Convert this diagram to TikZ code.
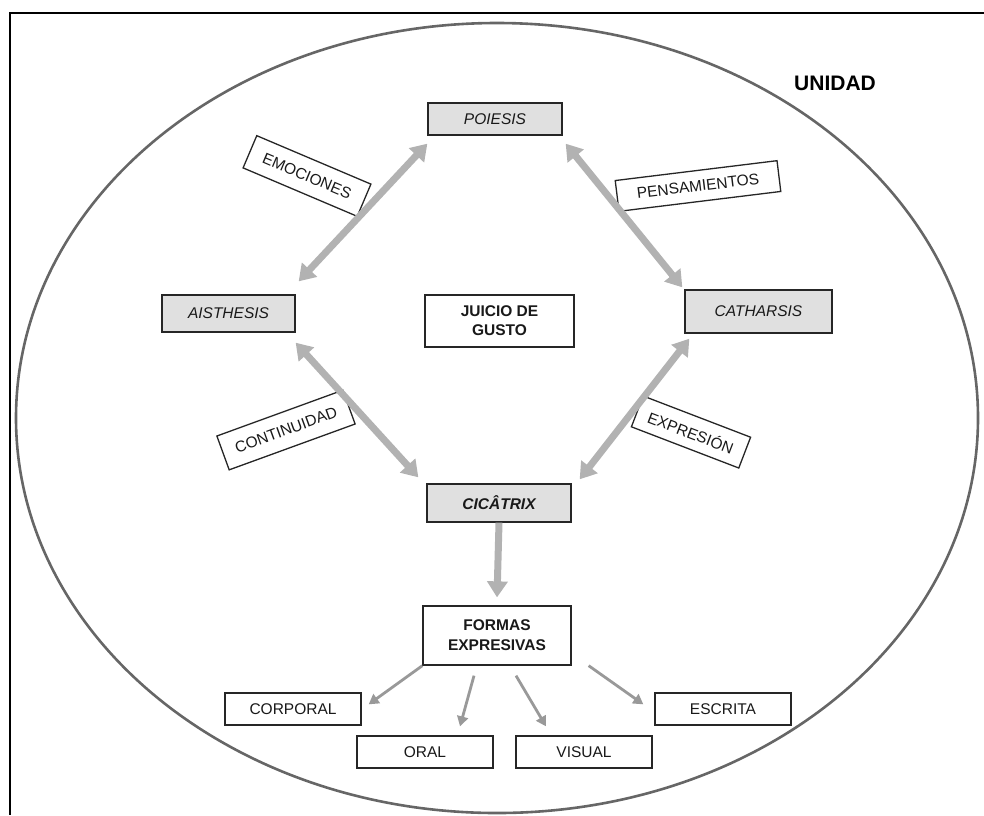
\documentclass[tikz,border=0pt]{standalone}
\usepackage{fontspec}
\setmainfont{Liberation Sans}
\usetikzlibrary{arrows.meta}

\newcommand\tam{\fontsize{15.5}{19}\selectfont}

\tikzset{
  cajablanca/.style={draw=black!85, line width=1.3pt, fill=white, inner sep=0pt, text=black!90, font=\tam},
  cajagris/.style={cajablanca, fill=black!12, font=\tam\itshape},
  flechadoble/.style={draw=black!30, line width=7pt, {Triangle[width=20pt,length=16pt]}-{Triangle[width=20pt,length=16pt]}},
  flechasimple/.style={draw=black!30, line width=7pt, -{Triangle[width=20pt,length=16pt]}},
  flechafina/.style={draw=black!40, line width=2.8pt, -{Triangle[width=11pt,length=10pt]}},
}

\begin{document}
\begin{tikzpicture}[x=1pt,y=-1pt]
\useasboundingbox (0,0) rectangle (984,815);

% marco y elipse
\draw[line width=2pt] (984,13) -- (10,13) -- (10,815);
\draw[black!60, line width=2.6pt] (497,418) ellipse [x radius=481pt, y radius=395pt];
\node[font=\fontsize{21}{25}\selectfont\bfseries] (unidad) at (835,83) {UNIDAD};

% conceptos
\node[cajagris, minimum width=134pt, minimum height=32pt] (poiesis) at (495,119) {POIESIS};
\node[cajagris, minimum width=133pt, minimum height=37pt] (aisthesis) at (228.5,313.5) {AISTHESIS};
\node[cajagris, minimum width=147pt, minimum height=43pt] (catharsis) at (758.5,311.5) {CATHARSIS};
\node[cajagris, minimum width=144pt, minimum height=38pt, font=\tam\bfseries\itshape] (cicatrix) at (499,503) {CICÂTRIX};
\node[cajablanca, minimum width=149pt, minimum height=52pt, align=center, font=\tam\bfseries] (juicio) at (499.5,321) {JUICIO DE\\GUSTO};
\node[cajablanca, minimum width=148pt, minimum height=59pt, align=center, font=\fontsize{15.5}{20}\selectfont\bfseries] (formas) at (497,635.5) {FORMAS\\EXPRESIVAS};

% etiquetas inclinadas
\node[cajablanca, minimum width=124pt, minimum height=35pt, rotate=-23] (emociones) at (307,176) {EMOCIONES};
\node[cajablanca, minimum width=163pt, minimum height=31pt, rotate=7] (pensamientos) at (698,186) {PENSAMIENTOS};
\node[cajablanca, minimum width=134pt, minimum height=36pt, rotate=20] (continuidad) at (286,430) {CONTINUIDAD};
\node[cajablanca, minimum width=115pt, minimum height=33pt, rotate=-21] (expresion) at (691,432) {EXPRESIÓN};

% formas
\node[cajablanca, minimum width=136pt, minimum height=32pt] (corporal) at (293,709) {CORPORAL};
\node[cajablanca, minimum width=136pt, minimum height=32pt] (oral) at (425,752) {ORAL};
\node[cajablanca, minimum width=136pt, minimum height=32pt] (visual) at (584,752) {VISUAL};
\node[cajablanca, minimum width=136pt, minimum height=32pt] (escrita) at (723,709) {ESCRITA};

% flechas
\draw[flechadoble] ([xshift=3pt,yshift=13pt]aisthesis.north east) -- ([yshift=-8pt]poiesis.south west);
\draw[flechadoble] ([xshift=3pt,yshift=-8pt]poiesis.south east) -- ([xshift=-2pt,yshift=2pt]catharsis.north west);
\draw[flechadoble] ([yshift=-10pt]aisthesis.south east) -- ([xshift=-8pt,yshift=6pt]cicatrix.north west);
\draw[flechadoble] ([xshift=5pt,yshift=-5pt]catharsis.south west) -- ([xshift=8pt,yshift=4pt]cicatrix.north east);
\draw[flechasimple] (cicatrix.south) -- ([yshift=8pt]formas.north);

\draw[flechafina] (formas.south west) -- ([xshift=7pt,yshift=-12pt]corporal.north east);
\draw[flechafina] ([xshift=-23pt,yshift=-10pt]formas.south) -- ([xshift=35pt,yshift=9pt]oral.north);
\draw[flechafina] ([xshift=19pt,yshift=-10pt]formas.south) -- ([xshift=-38pt,yshift=9pt]visual.north);
\draw[flechafina] ([xshift=17pt]formas.south east) -- ([xshift=-11pt,yshift=-12pt]escrita.north west);
\end{tikzpicture}
\end{document}
